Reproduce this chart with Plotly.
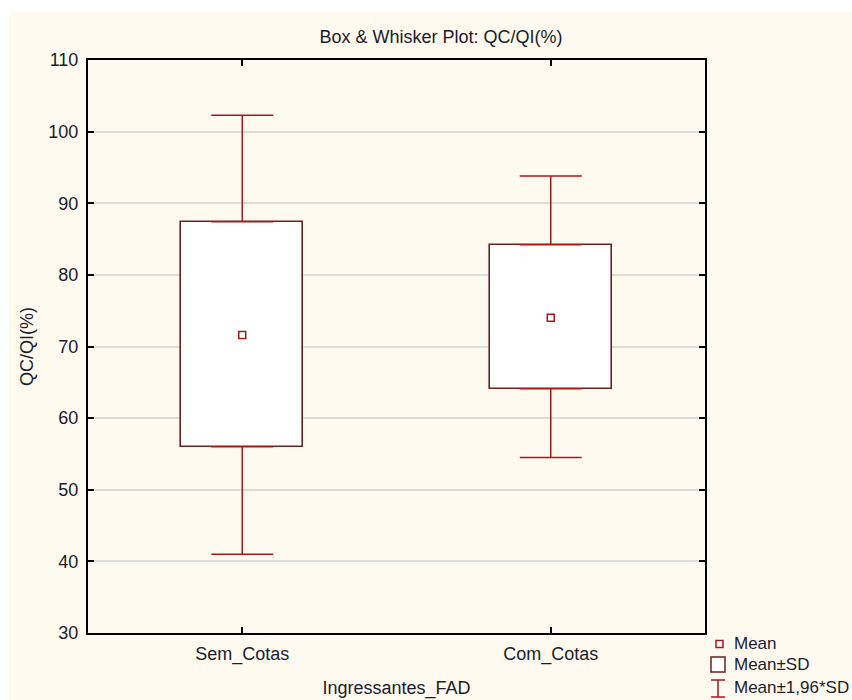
import plotly.graph_objects as go

# ---- data ----
categories = ["Sem_Cotas", "Com_Cotas"]
means = [71.6, 74.0]
sd_low = [56.0, 64.1]        # Mean - SD
sd_high = [87.4, 84.2]       # Mean + SD
ci_low = [41.0, 54.5]        # Mean - 1.96*SD
ci_high = [102.3, 93.8]      # Mean + 1.96*SD

# target plot edges in screen pixels
W, H = 852, 700
PL, PR, PT, PB = 88, 705, 60, 633

FONT = "Liberation Sans, Arial, sans-serif"
FS = 18
TXT = "#1c1c2c"
BOX_LINE = "#6a2222"
RED = "#a81818"
CREAM = "#fefaf0"


def px(x):
    return (x - PL) / (PR - PL)


def py(y):
    return (PB - y) / (PB - PT)


fig = go.Figure()

# upper whiskers
fig.add_trace(go.Scatter(
    x=categories, y=sd_high, mode="markers",
    marker=dict(size=1, color="rgba(0,0,0,0)"),
    error_y=dict(type="data", symmetric=False,
                 array=[c - s for c, s in zip(ci_high, sd_high)],
                 arrayminus=[0, 0], color=RED, thickness=1.5, width=31),
    showlegend=False, hoverinfo="skip",
))
# lower whiskers
fig.add_trace(go.Scatter(
    x=categories, y=sd_low, mode="markers",
    marker=dict(size=1, color="rgba(0,0,0,0)"),
    error_y=dict(type="data", symmetric=False,
                 array=[0, 0],
                 arrayminus=[s - c for s, c in zip(sd_low, ci_low)],
                 color=RED, thickness=1.5, width=31),
    showlegend=False, hoverinfo="skip",
))

# Mean ± SD boxes
fig.add_trace(go.Bar(
    x=categories,
    base=sd_low,
    y=[h - l for h, l in zip(sd_high, sd_low)],
    width=0.395,
    marker=dict(color="white", line=dict(color=BOX_LINE, width=1.6)),
    showlegend=False, hoverinfo="skip",
))

# means
fig.add_trace(go.Scatter(
    x=categories, y=means, mode="markers",
    marker=dict(symbol="square-open", size=7, color=RED, line=dict(width=1.5)),
    showlegend=False,
))

shapes = [
    # cream background
    dict(type="rect", xref="paper", yref="paper", layer="below",
         x0=px(9), x1=px(W + 5), y0=py(12), y1=py(H + 5),
         fillcolor=CREAM, line=dict(width=0)),
    # legend: mean marker
    dict(type="rect", xref="paper", yref="paper",
         x0=px(716), x1=px(723), y0=py(640.5), y1=py(647.5),
         fillcolor="white", line=dict(color=RED, width=1.5)),
    # legend: box
    dict(type="rect", xref="paper", yref="paper",
         x0=px(711), x1=px(725), y0=py(657), y1=py(672),
         fillcolor="white", line=dict(color=BOX_LINE, width=1.5)),
    # legend: I-beam
    dict(type="line", xref="paper", yref="paper",
         x0=px(718), x1=px(718), y0=py(680), y1=py(697),
         line=dict(color=RED, width=1.5)),
    dict(type="line", xref="paper", yref="paper",
         x0=px(711), x1=px(725), y0=py(680), y1=py(680),
         line=dict(color=RED, width=1.5)),
    dict(type="line", xref="paper", yref="paper",
         x0=px(711), x1=px(725), y0=py(697), y1=py(697),
         line=dict(color=RED, width=1.5)),
]

legend_labels = ["Mean", "Mean±SD", "Mean±1,96*SD"]
legend_y = [643, 664, 687]
annotations = [
    dict(text=t, xref="paper", yref="paper", x=px(732), y=py(yy),
         xanchor="left", yanchor="middle", showarrow=False,
         font=dict(family=FONT, size=17, color=TXT))
    for t, yy in zip(legend_labels, legend_y)
]

fig.update_layout(
    width=W, height=H,
    margin=dict(l=PL, r=W - PR, t=PT, b=H - PB, pad=0, autoexpand=False),
    paper_bgcolor="white",
    plot_bgcolor="white",
    font=dict(family=FONT, size=FS, color=TXT),
    title=dict(text="Box & Whisker Plot: QC/QI(%)", x=441 / W,
               xanchor="center", y=1 - 37 / H, yanchor="middle",
               font=dict(family=FONT, size=FS, color=TXT)),
    shapes=shapes,
    annotations=annotations,
    showlegend=False,
    bargap=0,
)

fig.update_xaxes(
    range=[-0.5, 1.5], ticks="inside", ticklen=6, tickwidth=1.5, tickcolor="black",
    mirror="ticks", showline=True, linecolor="black", linewidth=2,
    showgrid=False, tickfont=dict(family=FONT, size=FS, color=TXT),
    ticklabelstandoff=3, automargin=False,
    title=dict(text="Ingressantes_FAD", standoff=18,
               font=dict(family=FONT, size=FS, color=TXT)),
)
fig.update_yaxes(
    range=[30, 110], dtick=10, ticks="inside", ticklen=6, tickwidth=1.5,
    tickcolor="black", mirror="ticks", showline=True, linecolor="black",
    linewidth=2, showgrid=True, gridcolor="#dcdcdc", gridwidth=2,
    zeroline=False, tickfont=dict(family=FONT, size=FS, color=TXT),
    ticklabelstandoff=4, automargin=False,
    title=dict(text="QC/QI(%)", standoff=10,
               font=dict(family=FONT, size=FS, color=TXT)),
)

fig.write_html(
    "out.html",
    config={"displayModeBar": False},
    post_script="document.body.style.margin='0';"
                "document.documentElement.style.overflow='hidden';"
                "document.body.style.overflow='hidden';",
)
